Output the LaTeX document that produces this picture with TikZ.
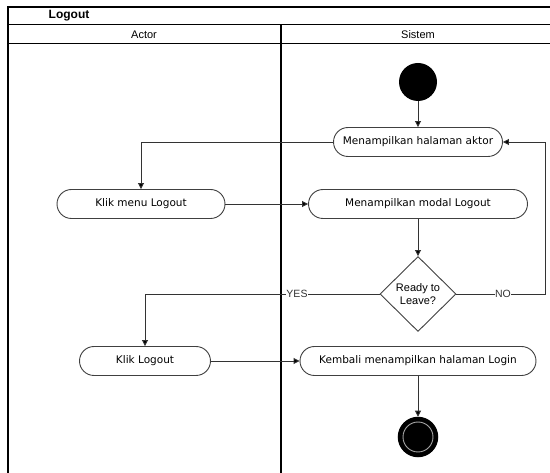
\documentclass[tikz,border=0pt]{standalone}
\usepackage{fontspec}
\setmainfont{DejaVu Sans}
\newfontfamily\arialfont{Liberation Sans}
\usetikzlibrary{arrows.meta,shapes.geometric}

\begin{document}
\begin{tikzpicture}[x=1pt,y=-1pt,
  frame/.style={draw=black, line width=1.2pt},
  rowline/.style={draw=black, line width=1pt},
  action/.style={draw=black!75, line width=0.9pt, rounded corners=14.5pt,
    minimum height=29pt, inner sep=0pt, font=\fontsize{10.5}{12}\selectfont},
  decision/.style={diamond, draw=black!75, line width=0.9pt, minimum width=76pt,
    minimum height=75pt, inner sep=0pt, align=center,
    font=\arialfont\fontsize{11}{13}\selectfont},
  flow/.style={draw=black!80, line width=0.9pt, -{Triangle[length=6pt,width=6pt,fill=black]}},
  guard/.style={fill=white, inner sep=0.5pt, font=\arialfont\fontsize{10.5}{12}\selectfont, text=black!80},
  header/.style={font=\arialfont\fontsize{11}{13}\selectfont},
]
\useasboundingbox (0,0) rectangle (550,473);

% swimlane frame
\draw[frame] (8,473) -- (8,7) -- (550,7);
\draw[rowline] (8,25) -- (550,25);
\draw[rowline] (8,44) -- (550,44);
\draw[frame] (281,25) -- (281,473);

\node[font=\arialfont\bfseries\fontsize{12}{14}\selectfont] (title) at (69,16) {Logout};
\node[header] (actorhead) at (144,35) {Actor};
\node[header] (sistemhead) at (418,35) {Sistem};

% start and end states
\node[circle, fill=black, minimum size=38pt, inner sep=0pt] (start) at (418,82) {};
\node[circle, fill=black, draw=black, line width=1.5pt, minimum size=39pt, inner sep=0pt] (stop) at (418,437) {};
\draw[black!35, line width=0.9pt] (stop.center) circle (15pt);

% activities
\node[action, minimum width=169pt] (aktor) at (418,142) {Menampilkan halaman aktor};
\node[action, minimum width=168pt] (klikmenu) at (141,204) {Klik menu Logout};
\node[action, minimum width=219pt] (modal) at (418,204) {Menampilkan modal Logout};
\node[decision] (dec) at (418,294) {Ready to\\Leave?};
\node[action, minimum width=131pt] (klik) at (145,361) {Klik Logout};
\node[action, minimum width=236pt] (kembali) at (418,361) {Kembali menampilkan halaman Login};

% control flow
\coordinate (noturn) at (545,294);
\draw[flow] (start) -- (aktor.north);
\draw[flow] (aktor.west) -| (klikmenu.north);
\draw[flow] (klikmenu.east) -- (modal.west);
\draw[flow] (modal.south) -- (dec.north);
\draw[flow] (dec.west) -| (klik.north);
\draw[flow] (dec.east) -- (noturn) |- (aktor.east);
\draw[flow] (klik.east) -- (kembali.west);
\draw[flow] (kembali.south) -- (stop.north);

% guards
\node[guard] (yes) at (297,294) {YES};
\node[guard] (no) at (503,294) {NO};
\end{tikzpicture}
\end{document}
